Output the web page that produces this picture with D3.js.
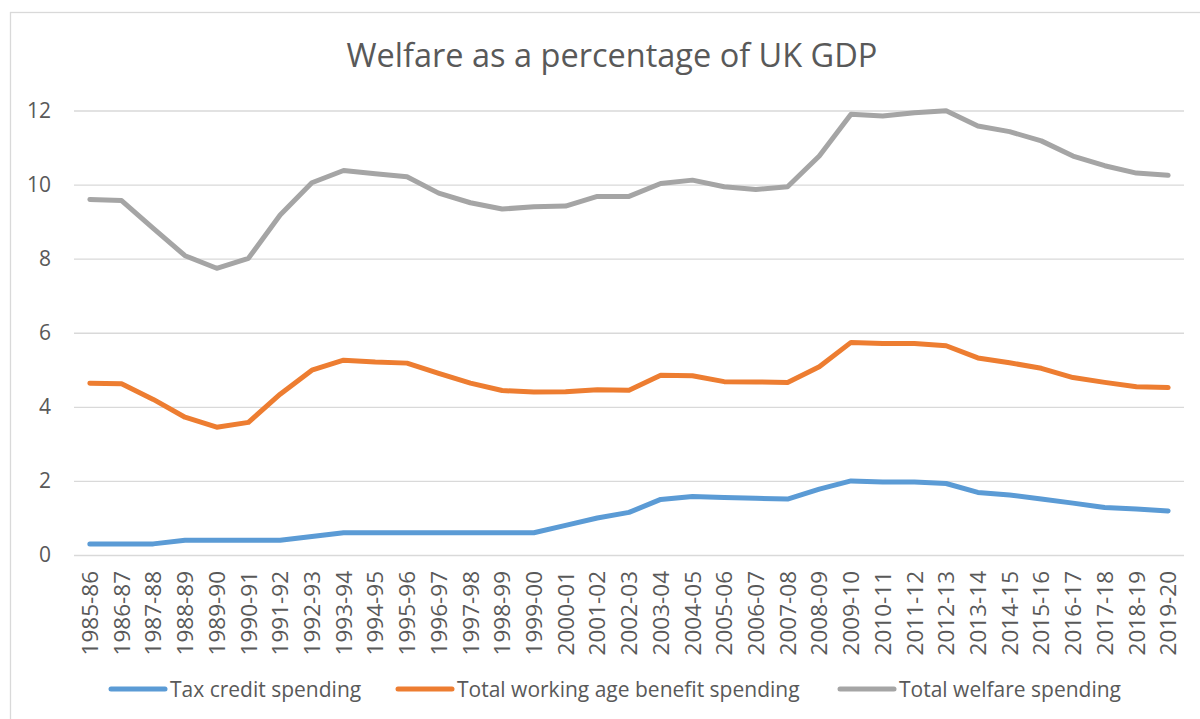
<!DOCTYPE html>
<html>
<head>
<meta charset="utf-8">
<script src="https://cdn.jsdelivr.net/npm/d3@7"></script>
<style>
  body { margin: 0; background: #fff; }
  svg { display: block; }
  text { font-family: "Open Sans", sans-serif; fill: #595959; }
</style>
</head>
<body>
<svg id="chart"></svg>
<script>
// data
const categories = ["1985-86","1986-87","1987-88","1988-89","1989-90","1990-91","1991-92","1992-93","1993-94","1994-95",
  "1995-96","1996-97","1997-98","1998-99","1999-00","2000-01","2001-02","2002-03","2003-04","2004-05",
  "2005-06","2006-07","2007-08","2008-09","2009-10","2010-11","2011-12","2012-13","2013-14","2014-15",
  "2015-16","2016-17","2017-18","2018-19","2019-20"];

const taxCredit = [0.3,0.3,0.3,0.4,0.4,0.4,0.4,0.5,0.6,0.6,0.6,0.6,0.6,0.6,0.6,0.8,1.0,1.15,1.5,1.58,
  1.55,1.53,1.51,1.78,2.0,1.97,1.97,1.93,1.69,1.62,1.51,1.4,1.28,1.24,1.19];

const workingAge = [4.64,4.62,4.2,3.72,3.45,3.58,4.34,4.99,5.26,5.21,5.18,4.9,4.64,4.44,4.4,4.41,4.46,4.45,4.85,4.84,
  4.68,4.67,4.66,5.08,5.74,5.71,5.71,5.65,5.32,5.19,5.04,4.79,4.66,4.54,4.52];

const totalWelfare = [9.6,9.57,8.82,8.08,7.74,8.01,9.18,10.05,10.38,10.29,10.21,9.77,9.51,9.34,9.4,9.42,9.68,9.68,10.03,10.12,
  9.94,9.87,9.94,10.77,11.9,11.85,11.94,11.99,11.58,11.43,11.18,10.77,10.51,10.31,10.25];

const seriesNames = ["Tax credit spending", "Total working age benefit spending", "Total welfare spending"];
const seriesColors = ["#5B9BD5", "#ED7D31", "#A5A5A5"];
const yTicks = [0, 2, 4, 6, 8, 10, 12];

const W = 1200, H = 719;
const plot = { left: 74, right: 1184, top: 110.5, bottom: 555 };

const svg = d3.select("#chart").attr("width", W).attr("height", H);

// outer chart border (runs off the right/bottom edge in the reference)
svg.append("rect")
   .attr("x", 10.5).attr("y", 12.5)
   .attr("width", W + 20).attr("height", H + 20)
   .attr("fill", "none")
   .attr("stroke", "#D9D9D9")
   .attr("stroke-width", 1.3);

const x = d3.scaleBand()
            .domain(categories)
            .range([plot.left, plot.right]);

const y = d3.scaleLinear()
            .domain([0, 12])
            .range([plot.bottom, plot.top]);

const cx = d => x(d) + x.bandwidth() / 2;

// y axis with gridlines
const yAxis = svg.append("g")
   .attr("transform", `translate(${plot.left},0)`)
   .call(d3.axisLeft(y).tickValues(yTicks).tickSize(-(plot.right - plot.left)).tickPadding(23));
yAxis.select(".domain").remove();
yAxis.selectAll("line").attr("stroke", "#D9D9D9").attr("stroke-width", 1.3);
yAxis.selectAll("text")
     .attr("font-size", "21px")
     .attr("font-family", "'Open Sans', sans-serif")
     .attr("fill", "#595959");

// x axis labels, vertical
const xAxis = svg.append("g")
   .attr("transform", `translate(0,${plot.bottom})`)
   .call(d3.axisBottom(x).tickSize(0).tickPadding(0));
xAxis.select(".domain").remove();
xAxis.selectAll("text")
     .attr("font-size", "22.5px")
     .attr("font-family", "'Open Sans', sans-serif")
     .attr("fill", "#595959")
     .attr("transform", "rotate(-90)")
     .attr("text-anchor", "end")
     .attr("x", -16)
     .attr("y", 0)
     .attr("dy", "0.36em");

// lines
const seriesData = [taxCredit, workingAge, totalWelfare];
const line = d3.line()
               .x((d, i) => cx(categories[i]))
               .y(d => y(d));

svg.append("g").selectAll("path")
   .data(seriesData)
   .enter().append("path")
   .attr("d", d => line(d))
   .attr("fill", "none")
   .attr("stroke", (d, i) => seriesColors[i])
   .attr("stroke-width", 5)
   .attr("stroke-linejoin", "round")
   .attr("stroke-linecap", "round");

// title
svg.append("text")
   .attr("x", 612)
   .attr("y", 67)
   .attr("text-anchor", "middle")
   .attr("font-size", "32.5px")
   .text("Welfare as a percentage of UK GDP");

// legend
const legendX = [111, 398, 840];
const legendY = 689;
const legend = svg.append("g").selectAll("g")
   .data(seriesNames)
   .enter().append("g")
   .attr("transform", (d, i) => `translate(${legendX[i]},${legendY})`);

legend.append("line")
      .attr("x1", 0).attr("x2", 54)
      .attr("y1", 0).attr("y2", 0)
      .attr("stroke", (d, i) => seriesColors[i])
      .attr("stroke-width", 5)
      .attr("stroke-linecap", "round");

legend.append("text")
      .attr("x", 59)
      .attr("y", 0)
      .attr("dy", "0.36em")
      .attr("font-size", "21px")
      .text(d => d);
</script>
</body>
</html>
